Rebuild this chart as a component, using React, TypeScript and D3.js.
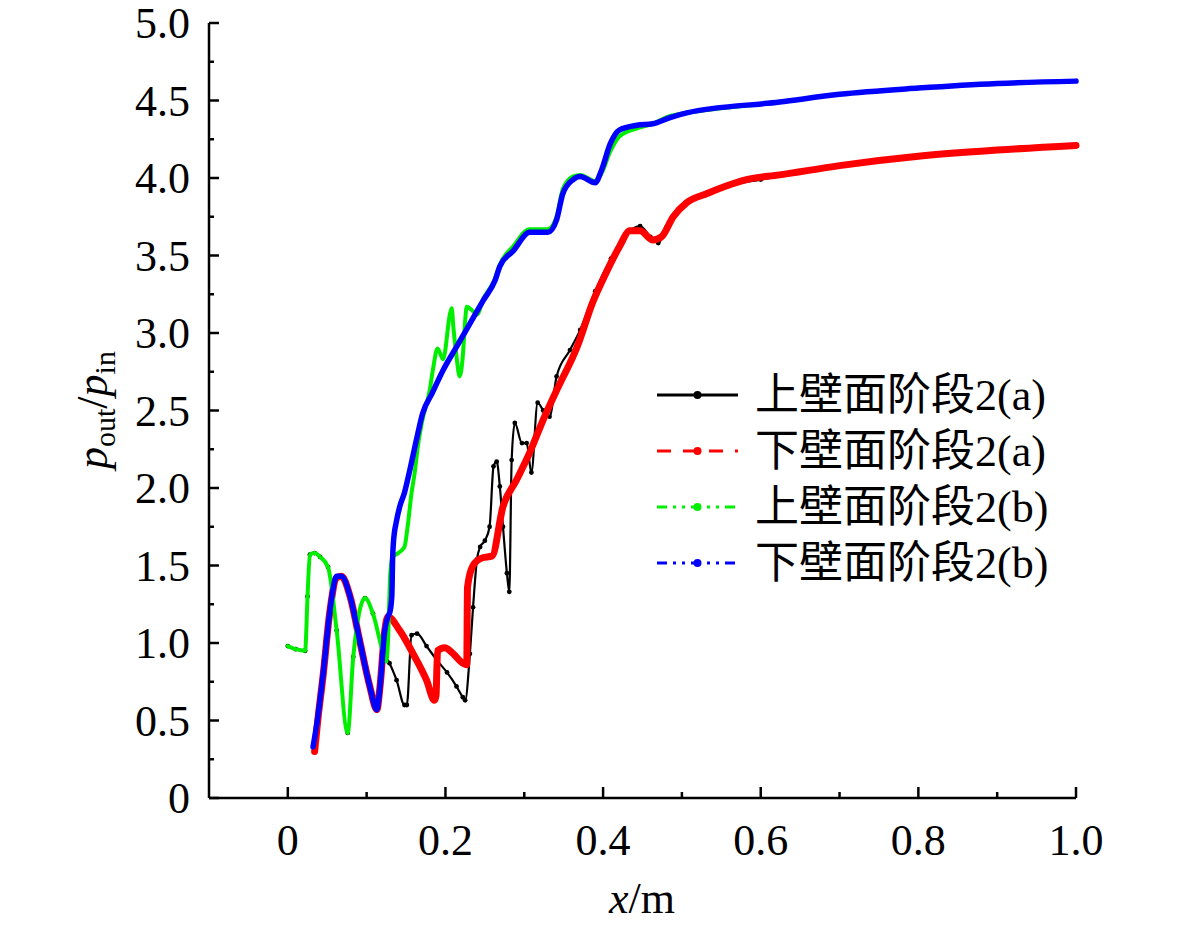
import React from "react";
import * as d3 from "d3";

// ---------- data ----------
const upperAX = [0.0, 0.01, 0.022, 0.025, 0.028, 0.034, 0.041, 0.051, 0.062, 0.076, 0.083, 0.098, 0.108, 0.121, 0.129, 0.138, 0.148, 0.151, 0.157, 0.164, 0.176, 0.189, 0.202, 0.214, 0.222, 0.225, 0.231, 0.235, 0.240, 0.244, 0.250, 0.256, 0.261, 0.265, 0.269, 0.273, 0.278, 0.281, 0.284, 0.288, 0.297, 0.303, 0.309, 0.317, 0.324, 0.332, 0.341, 0.358, 0.371, 0.39, 0.41, 0.43, 0.447, 0.46, 0.47, 0.48, 0.5, 0.53, 0.56, 0.6, 0.7, 0.8, 0.9, 1.0];
const upperAY = [0.98, 0.96, 0.95, 1.3, 1.57, 1.58, 1.555, 1.49, 1.08, 0.42, 0.91, 1.29, 1.19, 0.935, 0.87, 0.76, 0.6, 0.6, 1.05, 1.06, 0.98, 0.89, 0.81, 0.72, 0.65, 0.63, 0.93, 1.23, 1.54, 1.62, 1.66, 1.75, 2.14, 2.17, 2.01, 1.75, 1.45, 1.33, 2.18, 2.42, 2.29, 2.29, 2.1, 2.55, 2.5, 2.46, 2.72, 2.89, 3.02, 3.27, 3.48, 3.64, 3.69, 3.62, 3.58, 3.68, 3.82, 3.89, 3.95, 3.99, 4.08, 4.14, 4.18, 4.21];

const lowerAX = [0.034, 0.038, 0.045, 0.053, 0.062, 0.068, 0.079, 0.091, 0.104, 0.113, 0.117, 0.123, 0.127, 0.142, 0.159, 0.176, 0.186, 0.188, 0.190, 0.199, 0.21, 0.222, 0.227, 0.228, 0.235, 0.247, 0.259, 0.273, 0.29, 0.307, 0.324, 0.341, 0.367, 0.387, 0.404, 0.421, 0.434, 0.447, 0.463, 0.474, 0.489, 0.506, 0.532, 0.557, 0.582, 0.624, 0.7, 0.8, 0.9, 1.0];
const lowerAY = [0.3, 0.5, 0.8, 1.19, 1.42, 1.43, 1.3, 1.02, 0.72, 0.57, 0.72, 1.08, 1.17, 1.08, 0.93, 0.76, 0.63, 0.66, 0.95, 0.97, 0.93, 0.87, 0.86, 1.36, 1.5, 1.55, 1.56, 1.88, 2.05, 2.23, 2.44, 2.63, 2.91, 3.2, 3.39, 3.56, 3.66, 3.66, 3.6, 3.62, 3.75, 3.84, 3.9, 3.95, 3.99, 4.02, 4.08, 4.14, 4.18, 4.21];

const upperBX = [0.0, 0.01, 0.022, 0.025, 0.028, 0.034, 0.041, 0.051, 0.062, 0.076, 0.083, 0.098, 0.108, 0.121, 0.125, 0.127, 0.13, 0.133, 0.14, 0.148, 0.152, 0.157, 0.161, 0.165, 0.17, 0.18, 0.184, 0.19, 0.197, 0.206, 0.208, 0.21, 0.214, 0.218, 0.222, 0.225, 0.227, 0.233, 0.24, 0.248, 0.263, 0.269, 0.286, 0.307, 0.322, 0.33, 0.341, 0.349, 0.362, 0.371, 0.39, 0.398, 0.409, 0.421, 0.443, 0.463, 0.485, 0.506, 0.624, 0.7, 0.8, 0.9, 1.0];
const upperBY = [0.98, 0.96, 0.95, 1.3, 1.57, 1.58, 1.555, 1.49, 1.08, 0.42, 0.91, 1.29, 1.19, 0.935, 0.88, 1.0, 1.45, 1.555, 1.58, 1.62, 1.75, 1.97, 2.1, 2.27, 2.42, 2.63, 2.76, 2.9, 2.83, 3.13, 3.16, 3.04, 2.85, 2.72, 2.85, 3.08, 3.17, 3.15, 3.12, 3.22, 3.35, 3.44, 3.56, 3.67, 3.67, 3.67, 3.75, 3.93, 4.01, 4.02, 3.98, 4.03, 4.17, 4.27, 4.32, 4.35, 4.4, 4.42, 4.49, 4.54, 4.58, 4.61, 4.625];

const lowerBX = [0.032, 0.038, 0.045, 0.053, 0.062, 0.068, 0.079, 0.091, 0.104, 0.113, 0.117, 0.123, 0.127, 0.13, 0.132, 0.133, 0.134, 0.138, 0.142, 0.148, 0.155, 0.164, 0.171, 0.183, 0.197, 0.214, 0.231, 0.248, 0.263, 0.269, 0.286, 0.307, 0.322, 0.33, 0.341, 0.349, 0.362, 0.371, 0.39, 0.398, 0.409, 0.421, 0.443, 0.463, 0.485, 0.506, 0.624, 0.7, 0.8, 0.9, 1.0];
const lowerBY = [0.33, 0.52, 0.81, 1.19, 1.43, 1.43, 1.3, 1.02, 0.72, 0.57, 0.72, 1.08, 1.17, 1.21, 1.31, 1.55, 1.65, 1.79, 1.88, 1.97, 2.12, 2.33, 2.48, 2.61, 2.76, 2.91, 3.06, 3.21, 3.34, 3.43, 3.53, 3.65, 3.65, 3.65, 3.73, 3.9, 3.99, 4.01, 3.97, 4.05, 4.22, 4.31, 4.34, 4.35, 4.39, 4.42, 4.49, 4.54, 4.58, 4.61, 4.625];

const seriesNames = ["上壁面阶段2(a)", "下壁面阶段2(a)", "上壁面阶段2(b)", "下壁面阶段2(b)"];
const xTickMajor = [0, 0.2, 0.4, 0.6, 0.8, 1.0];
const xTickLabels = ["0", "0.2", "0.4", "0.6", "0.8", "1.0"];
const xTickMinor = [0.1, 0.3, 0.5, 0.7, 0.9];
const yTickMajor = [0, 0.5, 1.0, 1.5, 2.0, 2.5, 3.0, 3.5, 4.0, 4.5, 5.0];
const yTickLabels = ["0", "0.5", "1.0", "1.5", "2.0", "2.5", "3.0", "3.5", "4.0", "4.5", "5.0"];
const yTickMinor = [0.25, 0.75, 1.25, 1.75, 2.25, 2.75, 3.25, 3.75, 4.25, 4.75];

const FONT = "'Liberation Serif', 'Times New Roman', 'Noto Sans CJK SC', serif";

export default function App() {
  const x = d3.scaleLinear().domain([-0.1, 1.0]).range([209, 1076]);
  const y = d3.scaleLinear().domain([0, 5]).range([798, 23]);
  const line = d3
    .line<[number, number]>()
    .x((d) => x(d[0]))
    .y((d) => y(d[1]))
    .curve(d3.curveMonotoneX);
  const zip = (xs: number[], ys: number[]) => xs.map((v, i) => [v, ys[i]] as [number, number]);

  const series = [
    { name: seriesNames[0], data: zip(upperAX, upperAY), color: "#000000", width: 2.2, markers: true, legDash: "none" },
    { name: seriesNames[1], data: zip(lowerAX, lowerAY), color: "#ff0000", width: 7, markers: false, legDash: "14,12" },
    { name: seriesNames[2], data: zip(upperBX, upperBY), color: "#00ee00", width: 4, markers: false, legDash: "10,6,3,6,3,6" },
    { name: seriesNames[3], data: zip(lowerBX, lowerBY), color: "#0000ff", width: 5.5, markers: false, legDash: "10,6,3,6,3,6" },
  ];

  const legendX0 = 657;
  const legendX1 = 738;
  const legendY0 = 395;
  const legendDy = 56;

  return (
    <svg
      width={1181}
      height={928}
      style={{ position: "absolute", left: 0, top: 0, display: "block", background: "#fff" }}
      fontFamily={FONT}
    >
      <rect x={0} y={0} width={1181} height={928} fill="#fff" />
      {/* series */}
      {series.map((s, i) => (
        <g key={i}>
          <path d={line(s.data) || ""} fill="none" stroke={s.color} strokeWidth={s.width} strokeLinejoin="round" strokeLinecap="round" />
          {s.markers &&
            s.data.map((d, j) => (
              <circle key={j} cx={x(d[0])} cy={y(d[1])} r={2.4} fill={s.color} />
            ))}
        </g>
      ))}
      {/* axes */}
      <g stroke="#000" strokeWidth={2.5} fill="none">
        <line x1={x(-0.1)} y1={y(0)} x2={x(1.0)} y2={y(0)} />
        <line x1={x(-0.1)} y1={y(0)} x2={x(-0.1)} y2={y(5)} />
        {xTickMajor.map((t, i) => (
          <line key={"xM" + i} x1={x(t)} x2={x(t)} y1={y(0)} y2={y(0) - 11} />
        ))}
        {xTickMinor.map((t, i) => (
          <line key={"xm" + i} x1={x(t)} x2={x(t)} y1={y(0)} y2={y(0) - 6} />
        ))}
        {yTickMajor.map((t, i) => (
          <line key={"yM" + i} x1={x(-0.1)} x2={x(-0.1) + 10} y1={y(t)} y2={y(t)} />
        ))}
        {yTickMinor.map((t, i) => (
          <line key={"ym" + i} x1={x(-0.1)} x2={x(-0.1) + 5} y1={y(t)} y2={y(t)} />
        ))}
      </g>
      {/* tick labels */}
      <g fontSize={44} fill="#000">
        {xTickMajor.map((t, i) => (
          <text key={"xl" + i} x={x(t)} y={855} textAnchor="middle">
            {xTickLabels[i]}
          </text>
        ))}
        {yTickMajor.map((t, i) => (
          <text key={"yl" + i} x={190} y={y(t) + 15} textAnchor="end">
            {yTickLabels[i]}
          </text>
        ))}
      </g>
      {/* axis titles */}
      <text x={642} y={913} fontSize={44} textAnchor="middle" fill="#000">
        <tspan fontStyle="italic">x</tspan>
        <tspan>/m</tspan>
      </text>
      <g transform="translate(107,410) rotate(-90)">
        <text x={0} y={0} fontSize={44} textAnchor="middle" fill="#000">
          <tspan fontStyle="italic">p</tspan>
          <tspan fontSize={30} dy={8}>out</tspan>
          <tspan dy={-8}>/</tspan>
          <tspan fontStyle="italic">p</tspan>
          <tspan fontSize={30} dy={8}>in</tspan>
        </text>
      </g>
      {/* legend */}
      {series.map((s, i) => {
        const ly = legendY0 + i * legendDy;
        return (
          <g key={"lg" + i}>
            <line x1={legendX0} x2={legendX1} y1={ly} y2={ly} stroke={s.color} strokeWidth={3} strokeDasharray={s.legDash} />
            <circle cx={(legendX0 + legendX1) / 2} cy={ly} r={4} fill={s.color} />
            <text x={755} y={ly + 15} fontSize={44} fill="#000">
              {s.name}
            </text>
          </g>
        );
      })}
    </svg>
  );
}
